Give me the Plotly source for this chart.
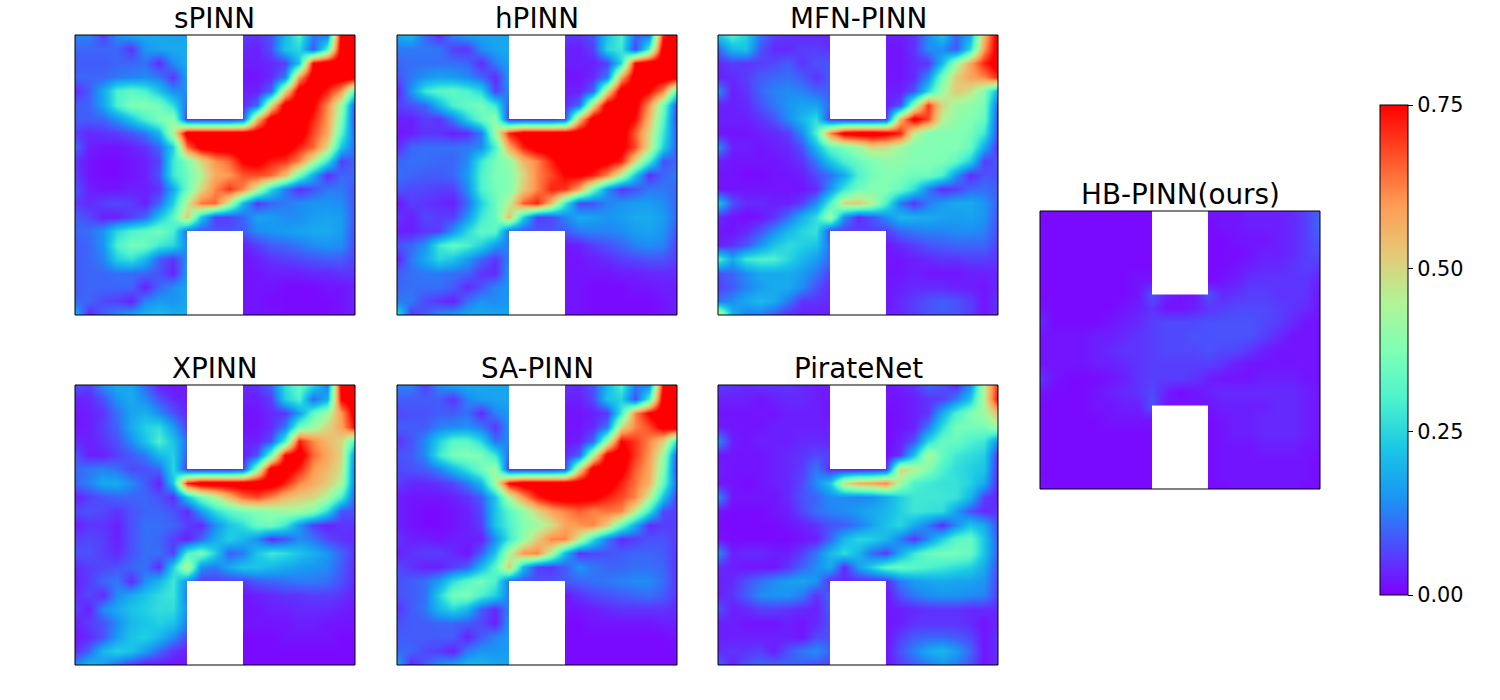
import plotly.graph_objects as go

_ = None
TITLES = ["sPINN", "hPINN", "MFN-PINN", "XPINN", "SA-PINN", "PirateNet", "HB-PINN(ours)"]
GRID_X = [0, .05, .1, .15, .2, .25, .3, .35, .4, .45, .5, .55, .6, .65, .7, .75, .8, .85, .9, .95, 1]
GRID_Y = [1, .95, .9, .85, .8, .75, .7, .65, .6, .55, .5, .45, .4, .35, .3, .25, .2, .15, .1, .05, 0]
CUT_X = [0.4, 0.6]
CUT_Y_TOP = [0.7, 1.0]
CUT_Y_BOTTOM = [0.0, 0.3]
TICKS = [0, 0.25, 0.5, 0.75]

# values in hundredths, rows listed top to bottom; None lies inside the solid obstacles
SPINN = [
[13,13,6,14,17,18,18,17,17,_,_,_,6,5,8,20,30,12,12,78,80],
[10,10,10,10,5,15,17,18,18,_,_,_,4,3,8,22,25,8,30,80,80],
[9,9,9,10,10,11,4,14,18,_,_,_,3,3,4,6,22,75,80,80,80],
[10,10,10,12,13,14,12,5,17,_,_,_,2,2,4,12,60,80,80,80,80],
[4,9,18,30,33,30,22,14,14,_,_,_,3,3,10,50,80,80,72,60,30],
[9,10,17,30,37,38,36,26,10,_,_,_,4,10,50,80,80,76,62,42,6],
[9,9,10,15,22,30,37,40,5,4,4,4,8,55,80,80,80,72,60,38,5],
[6,4,5,6,8,12,20,45,80,80,80,80,80,80,80,80,80,68,58,32,8],
[10,3,2,2,3,5,10,24,65,78,80,80,80,80,80,80,72,65,50,22,10],
[5,2,1,1,2,3,7,28,37,50,60,65,76,78,72,70,62,45,28,6,10],
[6,2,1,1,2,3,8,28,35,45,57,60,67,68,65,55,35,18,4,10,10],
[8,3,2,2,3,3,5,18,35,50,62,70,62,45,25,12,4,8,12,12,8],
[6,4,6,7,6,3,10,24,46,64,65,45,20,5,10,12,14,15,15,14,8],
[9,7,3,3,6,10,22,32,52,22,6,6,10,17,16,14,14,16,17,16,8],
[10,11,15,25,30,33,36,30,10,8,8,8,9,14,15,16,17,18,18,16,7],
[9,10,15,30,36,35,28,25,13,_,_,_,3,6,9,10,12,14,15,14,7],
[9,10,13,24,27,20,9,5,14,_,_,_,2,3,5,6,7,8,9,9,6],
[9,10,10,11,11,10,8,3,16,_,_,_,2,2,3,3,3,4,4,5,5],
[9,10,10,10,10,3,10,14,17,_,_,_,2,2,2,1,1,1,2,2,3],
[10,10,7,6,3,13,16,15,17,_,_,_,2,2,1,1,1,1,1,2,3],
[20,3,10,14,17,20,21,19,18,_,_,_,2,2,2,1,1,1,1,2,3],
]
HPINN = [
[18,20,10,4,13,16,17,17,17,_,_,_,6,5,8,22,30,10,12,72,80],
[12,12,12,12,6,5,14,17,18,_,_,_,3,3,6,25,28,6,30,80,80],
[10,11,11,11,11,10,4,12,17,_,_,_,3,3,3,6,25,75,80,80,80],
[8,12,15,17,16,14,10,4,16,_,_,_,2,2,4,12,58,80,80,80,80],
[3,15,28,32,33,30,25,6,14,_,_,_,3,3,10,50,80,80,75,62,30],
[6,8,10,20,30,34,36,28,8,_,_,_,4,10,50,80,80,78,60,36,6],
[3,3,6,5,12,24,34,40,4,4,4,4,8,55,80,80,80,74,55,32,5],
[2,3,5,5,3,4,12,42,72,80,80,80,80,80,80,80,80,66,50,28,8],
[4,10,11,11,11,12,14,30,58,72,80,80,80,80,80,80,78,68,48,24,8],
[10,11,11,10,10,14,28,36,40,55,62,72,80,80,80,78,72,50,30,8,10],
[11,10,9,9,10,16,30,37,38,50,62,68,75,76,72,62,45,22,4,10,12],
[8,7,7,6,6,14,30,36,38,52,62,72,70,58,35,15,5,8,12,12,10],
[2,6,5,4,3,10,24,34,46,66,72,55,28,7,8,13,15,16,16,14,10],
[5,3,7,6,6,15,28,34,54,24,6,7,13,18,17,15,16,18,18,16,10],
[3,3,5,6,15,25,33,32,10,8,8,8,9,12,13,13,14,16,17,15,8],
[8,10,15,28,33,30,24,16,12,_,_,_,2,3,6,8,10,13,14,13,6],
[3,12,18,25,22,16,10,5,13,_,_,_,2,2,3,4,6,7,8,8,6],
[9,11,12,12,11,10,5,4,15,_,_,_,2,2,2,2,3,3,4,4,4],
[10,11,11,11,9,4,8,13,15,_,_,_,2,2,1,1,1,2,2,3,3],
[12,12,7,5,3,11,15,14,15,_,_,_,2,2,1,1,1,1,1,2,3],
[28,5,9,14,16,18,18,17,17,_,_,_,2,2,1,1,1,1,1,2,3],
]
MFN_PINN = [
[22,30,24,12,6,5,4,4,4,_,_,_,3,3,5,14,22,10,18,55,80],
[10,20,22,8,4,4,6,6,5,_,_,_,2,2,5,14,14,8,25,60,80],
[4,6,5,6,7,9,5,8,8,_,_,_,2,2,4,5,20,42,58,72,80],
[3,4,6,9,10,11,9,5,9,_,_,_,2,2,4,14,36,52,58,62,72],
[14,3,5,10,13,14,13,10,9,_,_,_,3,3,8,25,42,52,48,38,18],
[3,3,4,8,12,15,17,17,10,_,_,_,3,7,40,70,50,42,40,36,8],
[3,3,3,5,8,14,20,26,5,3,3,3,6,56,78,68,45,40,38,34,6],
[2,2,2,3,4,6,14,30,62,78,80,80,78,72,46,38,38,38,36,28,6],
[14,3,3,2,3,4,8,20,33,37,42,50,48,42,38,38,38,38,34,18,4],
[3,2,2,2,2,3,5,12,22,30,34,37,40,40,38,38,37,33,24,6,8],
[2,2,1,1,2,2,3,7,11,18,30,36,38,37,35,35,30,15,4,8,8],
[2,2,2,2,2,2,2,4,15,28,35,38,38,34,26,12,4,6,10,11,9],
[22,8,4,4,3,3,6,14,30,50,52,45,30,12,5,12,16,18,18,15,9],
[4,2,1,2,5,11,19,26,42,14,4,8,14,20,19,18,17,16,17,15,8],
[2,2,4,8,14,20,25,27,6,6,6,6,6,10,12,13,13,14,14,13,7],
[3,5,8,15,22,26,24,22,10,_,_,_,2,4,6,8,9,10,10,10,6],
[30,18,28,30,30,25,20,16,10,_,_,_,2,2,3,4,5,5,6,6,5],
[8,10,14,18,18,18,16,12,6,_,_,_,2,2,3,2,2,2,3,3,4],
[6,9,13,16,18,18,14,8,4,_,_,_,2,3,4,4,4,3,3,2,4],
[12,14,18,20,18,12,5,5,4,_,_,_,2,4,6,8,9,8,6,2,5],
[50,20,12,12,8,4,3,3,3,_,_,_,3,4,6,8,9,8,6,2,5],
]
XPINN = [
[8,6,14,18,18,10,3,2,3,_,_,_,4,5,10,26,34,25,12,78,80],
[3,4,8,15,18,14,8,4,3,_,_,_,3,3,6,24,30,10,18,75,80],
[2,3,5,11,17,19,14,8,4,_,_,_,2,2,4,5,16,33,42,60,80],
[2,3,6,10,18,24,26,16,6,_,_,_,2,2,4,12,35,42,50,58,75],
[4,3,5,8,14,22,30,22,10,_,_,_,3,3,8,30,72,62,55,50,30],
[8,3,3,6,9,12,20,24,8,_,_,_,3,8,35,75,80,65,58,50,12],
[10,12,13,11,7,8,10,25,5,3,3,3,6,40,80,80,72,60,55,48,10],
[10,13,18,18,14,9,3,22,72,80,80,80,80,80,80,72,62,57,52,44,10],
[3,6,8,10,10,10,8,4,22,35,44,55,65,68,62,55,52,50,44,30,8],
[7,8,7,5,8,10,10,8,4,16,26,32,36,38,40,42,42,38,26,8,8],
[3,5,5,3,8,11,11,10,6,4,14,22,26,34,35,28,15,6,3,5,5],
[6,7,6,3,8,11,10,6,3,10,18,24,20,14,4,8,14,12,7,5,4],
[8,8,6,4,8,11,11,6,30,36,24,9,12,22,28,26,22,19,15,10,5],
[4,6,7,8,10,11,4,24,46,14,12,18,22,22,20,18,16,15,14,9,4],
[3,6,10,12,4,14,20,28,14,6,6,6,6,9,10,11,12,12,11,8,4],
[4,7,4,14,18,22,26,28,12,_,_,_,2,3,4,5,5,6,6,5,3],
[6,3,14,18,22,24,26,26,14,_,_,_,2,2,3,3,4,4,4,3,2],
[3,6,8,14,20,22,24,22,12,_,_,_,2,2,2,2,3,3,2,2,2],
[2,4,8,16,22,24,20,14,7,_,_,_,1,1,1,2,2,2,2,1,1],
[4,10,20,24,22,16,10,5,3,_,_,_,1,1,1,1,1,1,1,1,1],
[14,20,16,10,5,2,2,2,2,_,_,_,1,1,1,1,1,1,1,1,1],
]
SA_PINN = [
[13,13,6,14,17,18,18,17,17,_,_,_,5,4,8,20,30,12,14,75,80],
[9,9,9,9,5,13,16,17,17,_,_,_,3,3,7,22,24,7,30,80,80],
[7,8,8,9,9,11,4,13,16,_,_,_,2,2,3,5,28,62,76,80,80],
[9,9,9,13,14,15,12,5,15,_,_,_,2,2,4,12,50,62,68,78,80],
[5,8,14,24,32,32,25,11,14,_,_,_,2,3,10,42,75,70,62,52,25],
[8,9,14,28,36,38,37,28,9,_,_,_,4,9,45,78,80,70,60,42,6],
[7,8,9,13,20,27,35,42,4,4,4,4,7,50,80,80,78,66,58,38,5],
[6,4,4,5,7,12,20,42,75,80,80,80,80,80,80,80,72,64,56,34,8],
[3,2,2,2,3,5,9,22,44,60,72,78,80,78,78,72,68,62,46,22,5],
[3,2,1,1,2,3,7,22,32,40,50,58,62,66,62,64,62,46,28,7,6],
[3,2,1,1,2,3,6,22,30,38,42,48,58,60,62,52,34,18,4,6,6],
[5,3,3,2,3,3,3,14,28,40,52,62,62,46,26,12,4,6,8,8,6],
[3,5,6,6,4,2,9,22,44,60,62,44,20,5,7,8,9,10,10,9,5],
[7,5,3,3,6,9,20,32,52,20,6,5,9,15,12,10,10,11,11,10,5],
[8,9,11,16,26,32,36,30,10,8,8,8,9,10,11,12,13,14,14,11,5],
[8,9,11,24,36,37,30,24,12,_,_,_,2,5,7,8,9,10,11,9,5],
[5,9,12,20,25,20,9,4,13,_,_,_,2,2,3,4,5,5,5,5,4],
[8,9,9,10,10,9,7,3,15,_,_,_,1,1,2,2,2,2,2,3,3],
[9,9,9,9,9,3,9,13,16,_,_,_,1,1,1,1,1,1,1,1,2],
[10,10,7,6,3,12,15,15,16,_,_,_,1,1,1,1,1,1,1,1,1],
[18,3,9,14,17,20,20,18,17,_,_,_,1,1,1,1,1,1,1,1,1],
]
PIRATENET = [
[6,5,4,5,5,5,4,3,3,_,_,_,2,3,5,10,8,4,14,45,72],
[3,3,3,2,3,4,4,3,2,_,_,_,2,2,3,5,6,12,22,45,75],
[2,2,2,2,2,3,3,3,2,_,_,_,1,2,3,5,18,30,37,42,55],
[3,2,2,2,3,3,3,3,3,_,_,_,1,2,3,12,26,36,36,36,42],
[14,3,2,3,3,3,4,4,4,_,_,_,1,3,8,25,34,34,30,28,14],
[2,2,2,2,3,4,5,7,6,_,_,_,1,5,22,44,34,28,26,24,4],
[3,2,2,2,3,4,6,12,4,2,2,2,5,50,46,38,30,26,24,22,3],
[2,2,1,2,3,4,7,14,22,48,56,58,62,42,30,28,27,27,24,18,3],
[14,2,2,2,2,4,8,10,14,14,13,14,18,24,28,28,28,27,20,6,3],
[2,1,1,1,2,3,7,11,13,14,16,18,20,24,28,27,26,16,8,4,5],
[1,1,1,1,1,2,3,5,8,9,12,17,22,25,18,12,4,14,22,18,7],
[2,1,1,1,1,1,2,3,10,20,25,24,20,12,5,14,24,32,34,22,8],
[14,3,4,4,3,3,6,12,20,26,20,10,6,18,28,34,36,36,34,22,8],
[4,3,2,2,2,5,10,14,18,4,16,24,32,34,32,30,28,26,24,18,7],
[3,4,8,11,14,16,17,15,4,4,4,4,4,12,16,17,18,17,17,15,6],
[3,5,9,14,15,15,12,5,10,_,_,_,2,8,12,14,15,15,14,13,6],
[8,3,4,6,6,5,4,3,9,_,_,_,2,3,4,5,5,5,4,4,4],
[3,3,2,2,2,3,2,4,8,_,_,_,2,3,5,5,5,5,4,2,4],
[3,3,3,3,3,3,2,7,8,_,_,_,2,6,9,10,10,9,7,2,5],
[4,5,5,6,3,8,12,14,10,_,_,_,2,8,13,18,20,16,10,2,5],
[10,3,8,10,10,10,9,8,6,_,_,_,2,6,9,12,14,12,8,2,5],
]
HB_PINN = [
[1,1,1,1,1,1,1,1,1,_,_,_,2,2,2,3,3,3,4,6,10],
[1,1,1,1,1,1,1,1,1,_,_,_,1,2,2,3,3,3,4,6,11],
[1,1,1,1,1,1,1,1,1,_,_,_,1,1,2,2,2,3,4,6,9],
[1,1,1,1,1,1,1,1,1,_,_,_,1,1,1,2,3,3,4,6,8],
[1,1,1,1,1,1,1,1,1,_,_,_,1,1,2,3,4,4,5,6,5],
[1,1,1,1,1,1,1,2,2,_,_,_,1,2,3,5,5,5,5,5,3],
[1,1,1,1,1,1,1,2,8,3,2,2,8,4,5,6,6,5,5,5,2],
[2,1,1,1,1,1,2,3,5,2,2,3,5,6,7,7,7,6,5,4,2],
[4,1,1,1,1,2,3,4,6,7,7,7,8,8,8,8,7,6,4,2,2],
[2,2,2,2,3,3,4,5,6,7,7,8,8,8,8,8,6,4,2,2,2],
[2,2,2,2,3,4,5,5,6,7,7,7,8,7,7,5,3,2,2,2,2],
[2,2,2,2,3,3,4,5,6,6,6,6,6,5,3,2,2,2,2,2,2],
[5,2,1,1,1,2,3,5,6,6,6,5,3,2,2,2,3,3,3,2,2],
[2,1,1,1,2,3,4,5,7,3,1,2,3,4,4,4,4,4,4,3,2],
[1,1,1,1,2,2,3,3,8,2,2,2,2,3,3,3,3,4,4,3,2],
[1,1,1,1,1,2,2,2,2,_,_,_,1,2,3,3,4,4,4,3,2],
[1,1,1,1,1,1,1,1,1,_,_,_,1,2,3,3,4,4,4,3,2],
[1,1,1,1,1,1,1,1,1,_,_,_,1,2,2,2,3,3,3,2,2],
[1,1,1,1,1,1,1,1,1,_,_,_,1,2,2,2,2,2,2,2,1],
[1,1,1,1,1,1,1,1,1,_,_,_,1,2,2,2,2,2,2,2,1],
[2,1,1,1,1,1,1,1,1,_,_,_,1,1,2,2,2,2,2,1,1],
]
PANELS = [SPINN, HPINN, MFN_PINN, XPINN, SA_PINN, PIRATENET, HB_PINN]

W, H = 1500, 700
# panel boxes in pixels: left, right, top, bottom
BOXES = [(75, 355, 35, 315), (397, 677, 35, 315), (718, 998, 35, 315),
         (75, 355, 385, 665), (397, 677, 385, 665), (718, 998, 385, 665),
         (1040, 1320, 211, 489)]
RAINBOW = [[0.0, "#8000ff"], [0.1, "#4d4dfc"], [0.2, "#1996f3"], [0.3, "#1ac7e6"], [0.4, "#4df3ce"],
           [0.5, "#80ffb4"], [0.6, "#b3f396"], [0.7, "#e6c776"], [0.8, "#ff9a52"], [0.9, "#ff4d27"], [1.0, "#ff0000"]]
FONT = "DejaVu Sans"

fig = go.Figure()
shapes, notes = [], []
for k, (rows, title, (l, r, t, b)) in enumerate(zip(PANELS, TITLES, BOXES), start=1):
    assert len(rows) == 21 and all(len(row) == 21 for row in rows), title
    suffix = "" if k == 1 else str(k)
    xn, yn = f"x{suffix}", f"y{suffix}"
    z = [[None if v is None else v / 100 for v in row] for row in rows[::-1]]
    fig.add_trace(go.Heatmap(x=GRID_X, y=GRID_Y[::-1], z=z, zsmooth="best", coloraxis="coloraxis",
                             xaxis=xn, yaxis=yn, hoverongaps=False))
    axis = dict(range=[0, 1], visible=False, fixedrange=True)
    fig.update_layout({
        f"xaxis{suffix}": dict(axis, domain=[l / W, r / W], anchor=yn),
        f"yaxis{suffix}": dict(axis, domain=[1 - b / H, 1 - t / H], anchor=xn),
    })
    for cy in (CUT_Y_TOP, CUT_Y_BOTTOM):
        shapes.append(dict(type="rect", xref=xn, yref=yn, x0=CUT_X[0], x1=CUT_X[1], y0=cy[0], y1=cy[1],
                           fillcolor="white", line_width=0, layer="above"))
    shapes.append(dict(type="rect", xref=f"{xn} domain", yref=f"{yn} domain", x0=0, x1=1, y0=0, y1=1,
                       line=dict(color="black", width=1), layer="above"))
    notes.append(dict(text=title, xref=f"{xn} domain", yref=f"{yn} domain", x=0.5, y=1, yanchor="bottom",
                      xanchor="center", yshift=-2, showarrow=False, font=dict(family=FONT, size=27.8, color="black")))

fig.update_layout(
    width=W, height=H, autosize=False, margin=dict(l=0, r=0, t=0, b=0),
    paper_bgcolor="white", plot_bgcolor="white", font=dict(family=FONT, color="black"),
    shapes=shapes, annotations=notes,
    coloraxis=dict(cmin=0, cmax=0.75, colorscale=RAINBOW, colorbar=dict(
        thickness=28, thicknessmode="pixels", len=490 / H, lenmode="fraction", x=1380 / W, xanchor="left",
        y=0.5, yanchor="middle", xpad=0, ypad=0, outlinewidth=1, outlinecolor="black", ticks="outside",
        ticklen=5, tickwidth=1, tickcolor="black", tickvals=TICKS, tickformat=".2f",
        tickfont=dict(family=FONT, size=20.8, color="black"))),
)
fig.write_html("out.html", config=dict(displayModeBar=False), post_script="document.body.style.margin='0';")
